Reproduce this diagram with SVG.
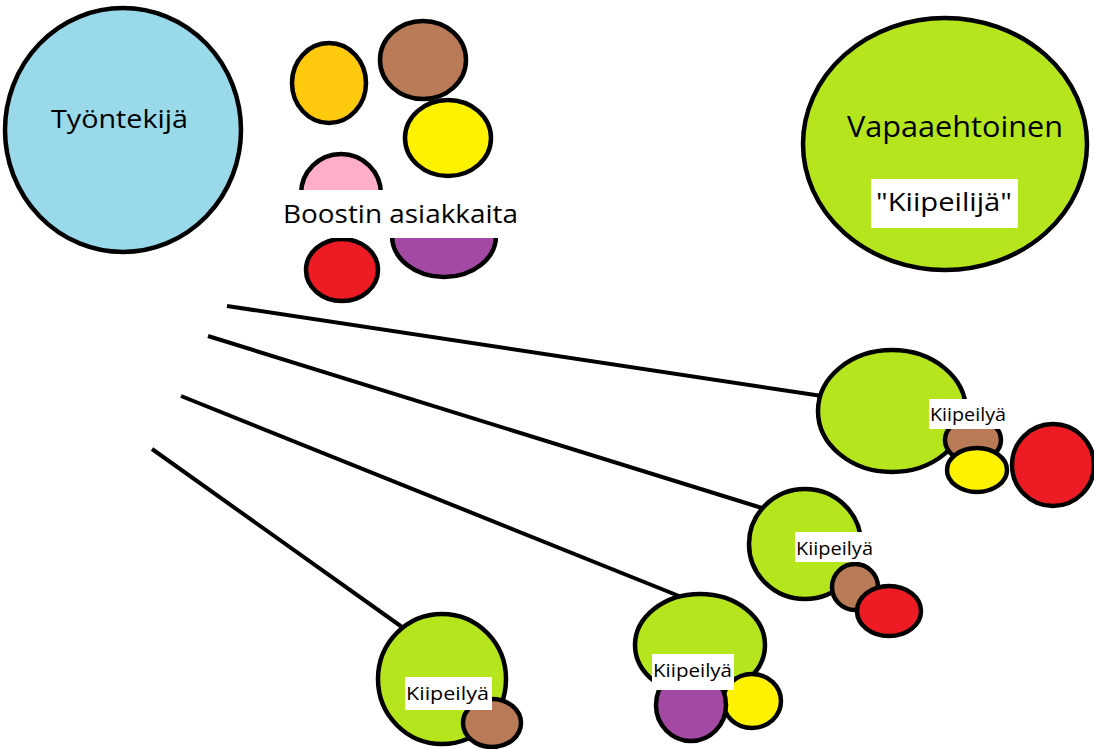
<svg xmlns="http://www.w3.org/2000/svg" width="1094" height="749" viewBox="0 0 1094 749">
<style>
.c{stroke:#000;stroke-width:4.5}
.lb{fill:#fff}
.t{font-family:"Open Sans","Noto Sans",sans-serif;fill:#000}
.s{font-size:19px}
.line{stroke:#000;stroke-width:4;fill:none}
</style>
<rect width="1094" height="749" fill="#fff"/>
<g id="connectors">
<line class="line" x1="227" y1="306" x2="822" y2="396"/>
<line class="line" x1="208" y1="336" x2="762" y2="508"/>
<line class="line" x1="181" y1="396" x2="684" y2="598"/>
<line class="line" x1="152" y1="449" x2="402" y2="627"/>
</g>
<g id="tyontekija">
<ellipse class="c" cx="123" cy="130" rx="118" ry="122" fill="#99d9ea"/>
<text class="t" x="51" y="128" font-size="26" textLength="137" lengthAdjust="spacingAndGlyphs">Työntekijä</text>
</g>
<g id="vapaaehtoinen">
<ellipse class="c" cx="945" cy="144" rx="142" ry="126" fill="#b5e61d"/>
<text class="t" x="847" y="137" font-size="29" textLength="216" lengthAdjust="spacingAndGlyphs">Vapaaehtoinen</text>
<rect class="lb" x="871" y="179" width="147" height="49"/>
<text class="t" x="876" y="211" font-size="26" textLength="136" lengthAdjust="spacingAndGlyphs">"Kiipeilijä"</text>
</g>
<g id="asiakkaat">
<ellipse class="c" cx="329" cy="83" rx="37" ry="40" fill="#ffc90e"/>
<ellipse class="c" cx="423" cy="60" rx="43" ry="39" fill="#b97a57"/>
<ellipse class="c" cx="448" cy="138" rx="43" ry="38" fill="#fff200"/>
<ellipse class="c" cx="341" cy="194" rx="40" ry="40" fill="#ffaec9"/>
<ellipse class="c" cx="444" cy="236" rx="52" ry="41" fill="#a349a4"/>
<ellipse class="c" cx="342" cy="270" rx="36" ry="31" fill="#ed1c24"/>
<rect class="lb" x="276" y="190" width="248" height="48"/>
<text class="t" x="283" y="223" font-size="26" textLength="235" lengthAdjust="spacingAndGlyphs">Boostin asiakkaita</text>
</g>
<g id="ryhma1">
<ellipse class="c" cx="892" cy="411" rx="74" ry="61" fill="#b5e61d"/>
<ellipse class="c" cx="973" cy="440" rx="28" ry="22" fill="#b97a57"/>
<ellipse class="c" cx="977" cy="470" rx="30" ry="22" fill="#fff200"/>
<ellipse class="c" cx="1053" cy="465" rx="41" ry="41" fill="#ed1c24"/>
<rect class="lb" x="929" y="399" width="79" height="30"/>
<text class="t s" x="930" y="421" textLength="76" lengthAdjust="spacingAndGlyphs">Kiipeilyä</text>
</g>
<g id="ryhma2">
<ellipse class="c" cx="805" cy="544" rx="56" ry="55" fill="#b5e61d"/>
<ellipse class="c" cx="855" cy="587" rx="23" ry="23" fill="#b97a57"/>
<ellipse class="c" cx="889" cy="611" rx="32" ry="25" fill="#ed1c24"/>
<rect class="lb" x="795" y="532" width="80" height="30"/>
<text class="t s" x="796" y="555" textLength="77" lengthAdjust="spacingAndGlyphs">Kiipeilyä</text>
</g>
<g id="ryhma3">
<ellipse class="c" cx="700" cy="645" rx="65" ry="51" fill="#b5e61d"/>
<ellipse class="c" cx="752" cy="701" rx="29" ry="27" fill="#fff200"/>
<ellipse class="c" cx="691" cy="705" rx="35" ry="36" fill="#a349a4"/>
<rect class="lb" x="652" y="654" width="82" height="36"/>
<text class="t s" x="653" y="677" textLength="79" lengthAdjust="spacingAndGlyphs">Kiipeilyä</text>
</g>
<g id="ryhma4">
<ellipse class="c" cx="442" cy="679" rx="64" ry="65" fill="#b5e61d"/>
<ellipse class="c" cx="492" cy="723" rx="29" ry="24" fill="#b97a57"/>
<rect class="lb" x="405" y="677" width="87" height="33"/>
<text class="t s" x="406" y="700" textLength="83" lengthAdjust="spacingAndGlyphs">Kiipeilyä</text>
</g>
</svg>
